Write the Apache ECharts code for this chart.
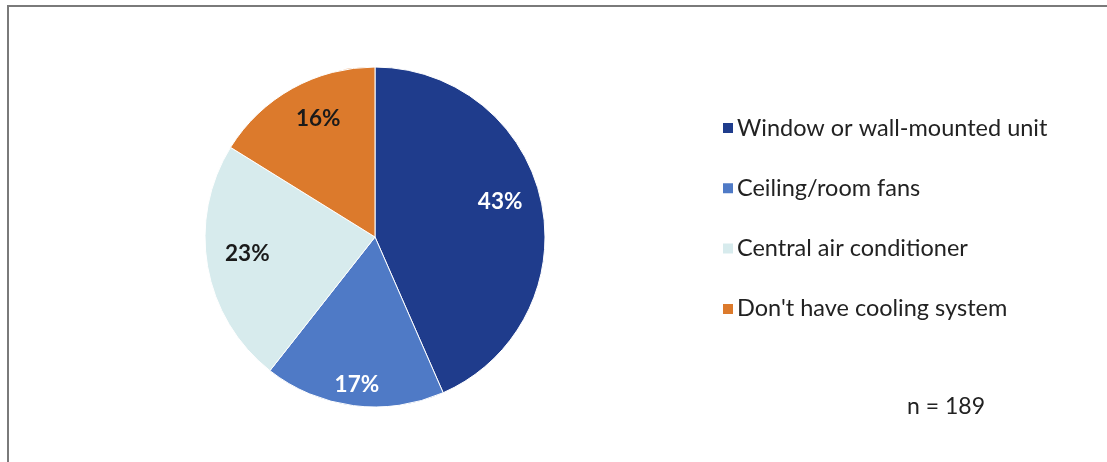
<!DOCTYPE html>
<html>
<head>
<meta charset="utf-8">
<script src="https://cdn.jsdelivr.net/npm/echarts@6/dist/echarts.min.js"></script>
<style>
html,body{margin:0;padding:0;background:#fff;}
#chart{width:1107px;height:462px;}
</style>
</head>
<body>
<div id="chart"></div>
<script>
const categories = ['Window or wall-mounted unit', 'Ceiling/room fans', 'Central air conditioner', "Don't have cooling system"];
const values = [43, 17, 23, 16];
const colors = ['#1f3c8c', '#4f7ac6', '#d7ebed', '#dc7a2c'];
const labelColors = ['#ffffff', '#ffffff', '#1a1a1a', '#1a1a1a'];
const labelOffsets = [[39, -17], [-7, 60], [-41, 1], [-14, -41]];
const note = 'n = 189';

const chart = echarts.init(document.getElementById('chart'));
const FONT = 'Lato, "Open Sans", sans-serif';
chart.setOption({
  animation: false,
  backgroundColor: '#ffffff',
  legend: {
    orient: 'vertical',
    left: 716,
    top: 111,
    itemWidth: 12,
    itemHeight: 12,
    itemGap: 36.3,
    icon: 'rect',
    textStyle: { fontFamily: FONT, fontSize: 23.5, color: '#222222', padding: [0, 0, 0, -2] },
    data: categories
  },
  graphic: [
    {
      type: 'polyline',
      shape: { points: [[8, 470], [8, 6], [1110, 6]] },
      style: { stroke: '#7a7a7a', lineWidth: 2, fill: null }
    },
    {
      type: 'text',
      left: 907,
      top: 395,
      style: { text: note, font: '23px ' + FONT, fill: '#222222' }
    }
  ],
  series: [{
    type: 'pie',
    center: [375, 237],
    radius: 170,
    startAngle: 90,
    clockwise: true,
    label: {
      show: true,
      position: 'inside',
      formatter: '{c}%',
      fontFamily: FONT,
      fontSize: 22.5,
      fontWeight: 'bold'
    },
    labelLine: { show: false },
    itemStyle: { borderColor: '#ffffff', borderWidth: 1 },
    emphasis: { disabled: true },
    data: categories.map((name, i) => ({
      name: name,
      value: values[i],
      itemStyle: { color: colors[i] },
      label: { color: labelColors[i], offset: labelOffsets[i] }
    }))
  }]
});
</script>
</body>
</html>
